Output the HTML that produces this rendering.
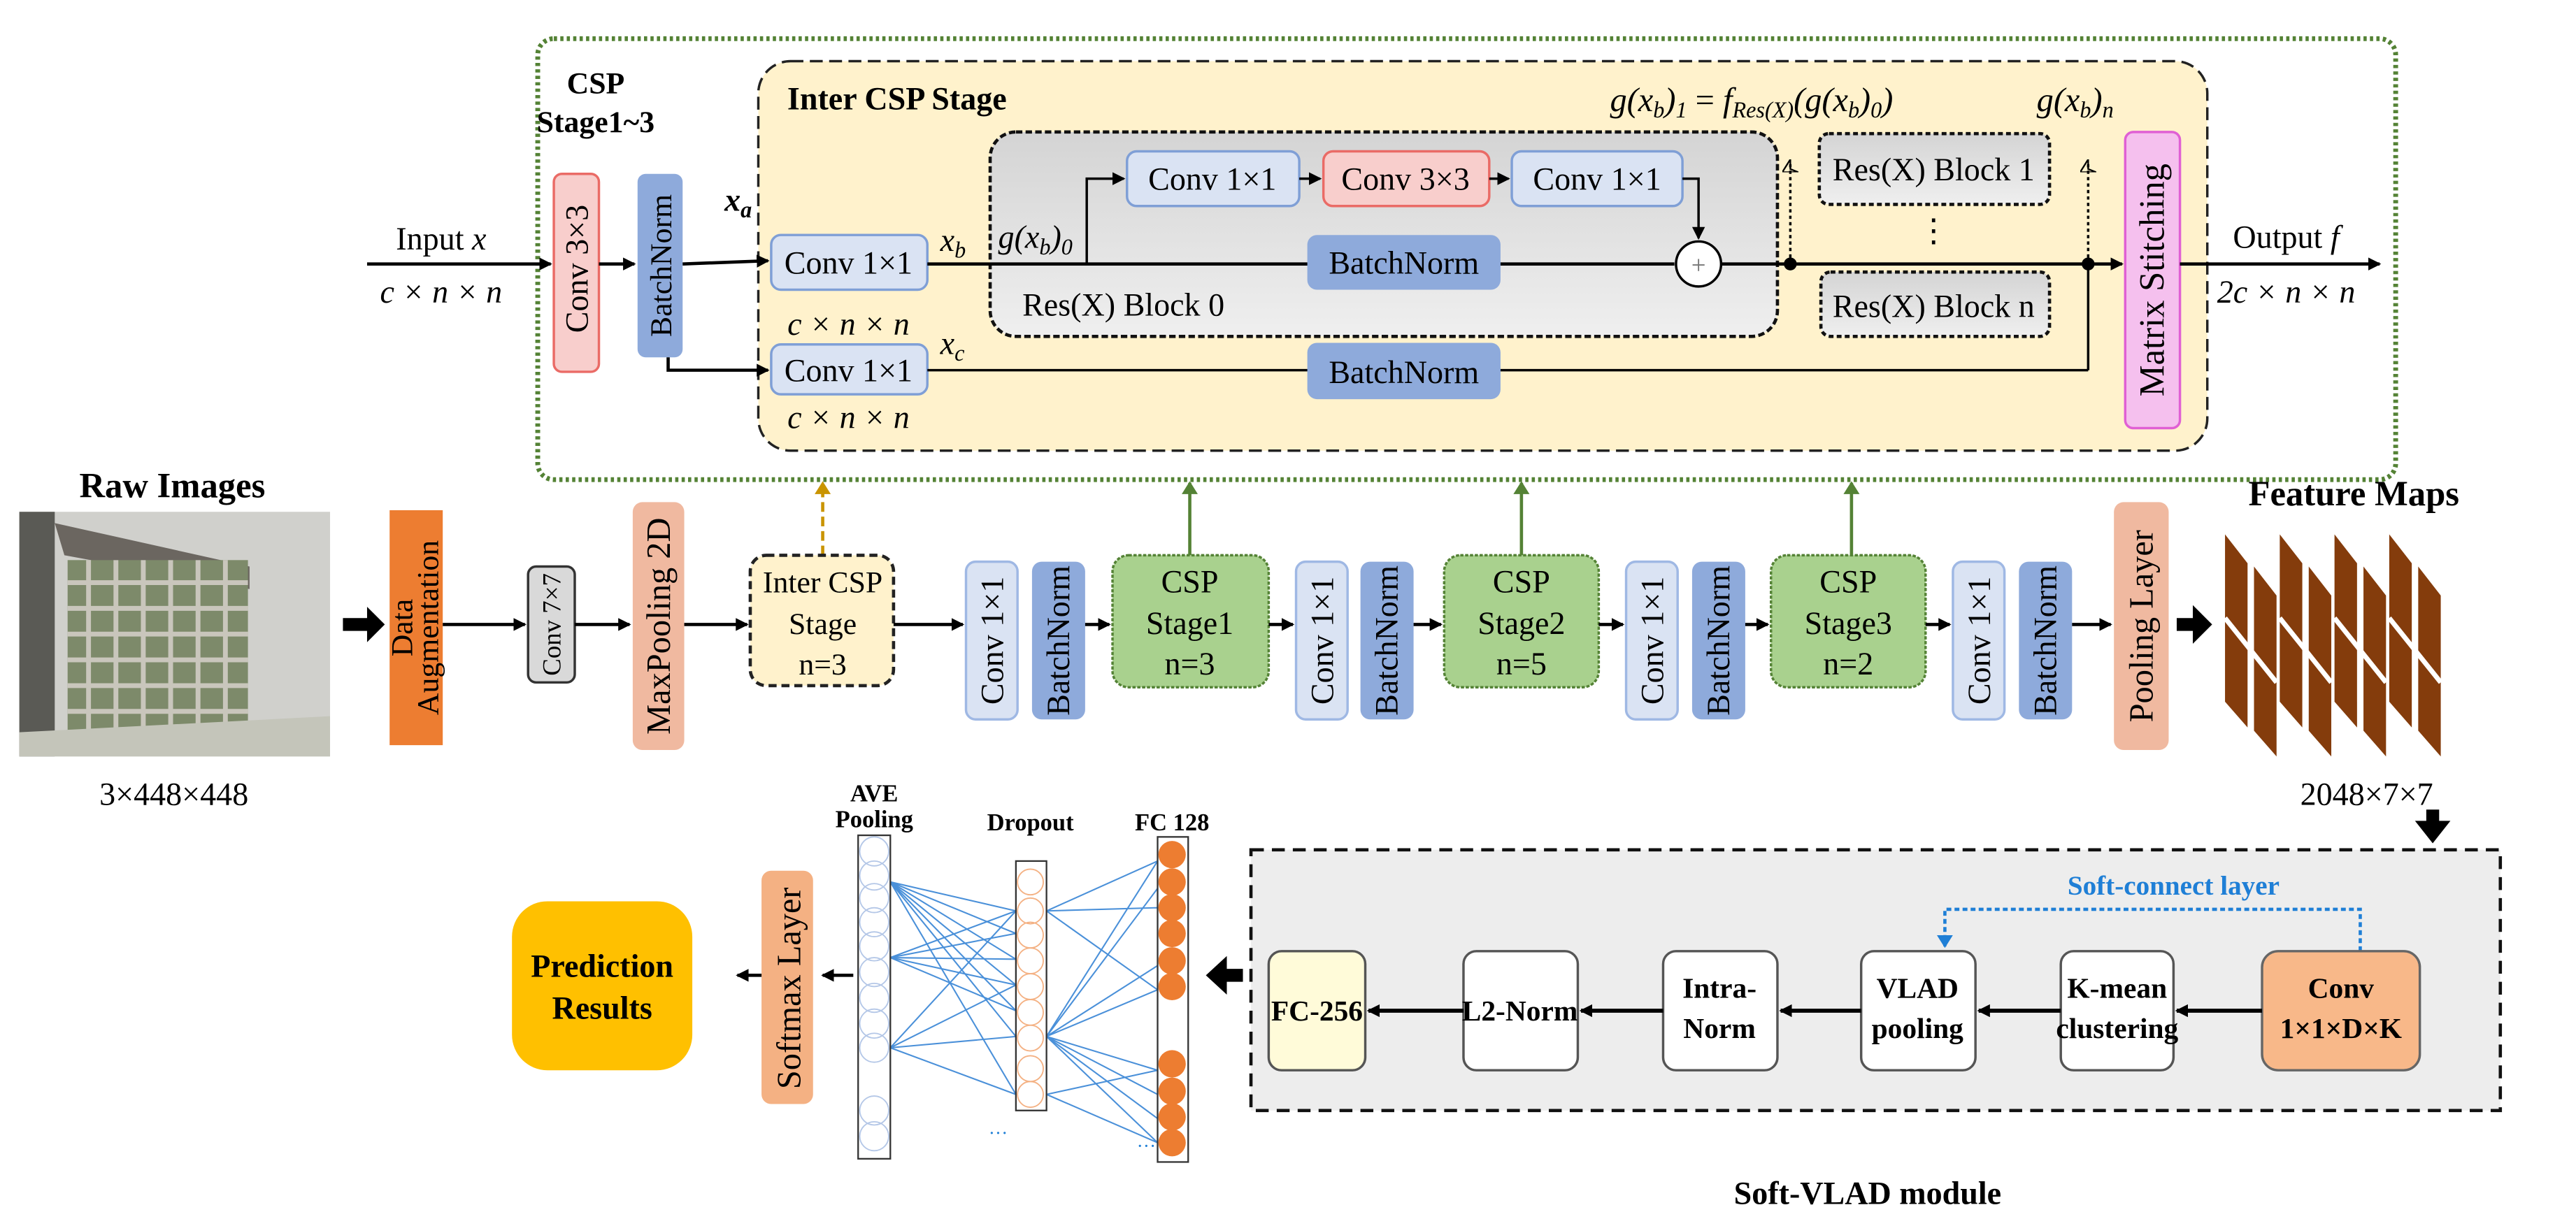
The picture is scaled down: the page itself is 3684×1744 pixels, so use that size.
<!DOCTYPE html>
<html><head><meta charset="utf-8"><style>html,body{margin:0;padding:0;background:#fff}svg{display:block}</style></head>
<body>
<svg xmlns="http://www.w3.org/2000/svg" width="3684" height="1744" viewBox="0 0 1600 757.4" font-family="'Liberation Serif', serif">
<defs>
<marker id="ah" markerWidth="8" markerHeight="8" refX="7" refY="4" orient="auto" markerUnits="userSpaceOnUse"><path d="M0,0 L8,4 L0,8 z" fill="#000"/></marker>
<marker id="ag" markerWidth="8" markerHeight="10" refX="7" refY="5" orient="auto" markerUnits="userSpaceOnUse"><path d="M0,0 L8,5 L0,10 z" fill="#548235"/></marker>
<marker id="ay" markerWidth="8" markerHeight="10" refX="7" refY="5" orient="auto" markerUnits="userSpaceOnUse"><path d="M0,0 L8,5 L0,10 z" fill="#c99400"/></marker>
<marker id="ab" markerWidth="8" markerHeight="10" refX="7" refY="5" orient="auto" markerUnits="userSpaceOnUse"><path d="M0,0 L8,5 L0,10 z" fill="#1f7fd6"/></marker>
<marker id="ao" markerWidth="8" markerHeight="10" refX="7" refY="5" orient="auto" markerUnits="userSpaceOnUse"><path d="M0,0 L8,5 L2,5 L0,10 z" fill="none" stroke="#000" stroke-width="1"/></marker>
<linearGradient id="gg" x1="0" y1="0" x2="0" y2="1"><stop offset="0" stop-color="#d4d4d4"/><stop offset="1" stop-color="#efefef"/></linearGradient>
</defs>

<rect x="334" y="24" width="1154" height="274" rx="10" fill="none" stroke="#548235" stroke-width="3" stroke-dasharray="2,2"/>
<text x="370" y="58" font-size="19" font-weight="bold" text-anchor="middle">CSP</text>
<text x="370" y="82" font-size="19" font-weight="bold" text-anchor="middle">Stage1~3</text>

<rect x="471" y="38" width="900" height="242" rx="20" fill="#fff2cc" stroke="#222" stroke-width="1.5" stroke-dasharray="8,4"/>
<text x="489" y="68" font-size="20" font-weight="bold">Inter CSP Stage</text>

<line x1="228" y1="164" x2="342" y2="164" stroke="#000" stroke-width="2" marker-end="url(#ah)"/>
<text x="274" y="155" font-size="20" text-anchor="middle">Input <tspan font-style="italic">x</tspan></text>
<text x="274" y="188" font-size="20" text-anchor="middle" font-style="italic">c × n × n</text>

<rect x="344" y="108" width="28" height="123" rx="5" fill="#f8cecc" stroke="#ea6b66" stroke-width="1.5"/>
<text transform="translate(365,167) rotate(-90)" font-size="20" text-anchor="middle">Conv 3×3</text>
<line x1="372" y1="164" x2="394" y2="164" stroke="#000" stroke-width="2" marker-end="url(#ah)"/>
<rect x="396" y="108" width="28" height="114" rx="5" fill="#8eaadb"/>
<text transform="translate(417,165) rotate(-90)" font-size="19" text-anchor="middle">BatchNorm</text>

<text x="450" y="131" font-size="20" font-style="italic" font-weight="bold">x<tspan font-size="14" dy="4">a</tspan></text>
<polyline points="424,164 477,162" fill="none" stroke="#000" stroke-width="2" marker-end="url(#ah)"/>
<polyline points="415,222 415,230 477,230" fill="none" stroke="#000" stroke-width="2" marker-end="url(#ah)"/>

<rect x="479" y="146" width="97" height="34" rx="6" fill="#dae3f3" stroke="#7f9fd6" stroke-width="1.5"/>
<text x="527" y="170" font-size="20" text-anchor="middle">Conv 1×1</text>
<text x="527" y="208" font-size="20" text-anchor="middle" font-style="italic">c × n × n</text>
<rect x="479" y="214" width="97" height="31" rx="6" fill="#dae3f3" stroke="#7f9fd6" stroke-width="1.5"/>
<text x="527" y="237" font-size="20" text-anchor="middle">Conv 1×1</text>
<text x="527" y="266" font-size="20" text-anchor="middle" font-style="italic">c × n × n</text>
<text x="584" y="156" font-size="20" font-style="italic">x<tspan font-size="14" dy="4">b</tspan></text>
<text x="584" y="220" font-size="20" font-style="italic">x<tspan font-size="14" dy="4">c</tspan></text>

<rect x="615" y="82" width="489" height="127" rx="16" fill="url(#gg)" stroke="#111" stroke-width="2" stroke-dasharray="4,2"/>
<text x="620" y="154" font-size="20" font-style="italic">g(x<tspan font-size="14" dy="4">b</tspan><tspan dy="-4">)</tspan><tspan font-size="14" dy="4">0</tspan></text>
<text x="635" y="196" font-size="20">Res(X) Block 0</text>
<line x1="576" y1="164" x2="1040" y2="164" stroke="#000" stroke-width="2"/>
<polyline points="675,164 675,111 698,111" fill="none" stroke="#000" stroke-width="1.5" marker-end="url(#ah)"/>
<rect x="700" y="94" width="107" height="34" rx="6" fill="#dae3f3" stroke="#7f9fd6" stroke-width="1.5"/>
<text x="753" y="118" font-size="20" text-anchor="middle">Conv 1×1</text>
<line x1="807" y1="111" x2="820" y2="111" stroke="#000" stroke-width="1.5" marker-end="url(#ah)"/>
<rect x="822" y="94" width="103" height="34" rx="6" fill="#f8cecc" stroke="#ea6b66" stroke-width="1.5"/>
<text x="873" y="118" font-size="20" text-anchor="middle">Conv 3×3</text>
<line x1="925" y1="111" x2="937" y2="111" stroke="#000" stroke-width="1.5" marker-end="url(#ah)"/>
<rect x="939" y="94" width="106" height="34" rx="6" fill="#dae3f3" stroke="#7f9fd6" stroke-width="1.5"/>
<text x="992" y="118" font-size="20" text-anchor="middle">Conv 1×1</text>
<polyline points="1045,111 1055,111 1055,148" fill="none" stroke="#000" stroke-width="1.5" marker-end="url(#ah)"/>
<rect x="812" y="146" width="120" height="34" rx="6" fill="#8eaadb"/>
<text x="872" y="170" font-size="20" text-anchor="middle">BatchNorm</text>
<circle cx="1055" cy="164" r="14" fill="#fff" stroke="#000" stroke-width="1.5"/>
<text x="1055" y="170" font-size="16" text-anchor="middle" fill="#777">+</text>
<line x1="1069" y1="164" x2="1318" y2="164" stroke="#000" stroke-width="2" marker-end="url(#ah)"/>
<circle cx="1112" cy="164" r="4" fill="#000"/>
<circle cx="1297" cy="164" r="4" fill="#000"/>
<line x1="1112" y1="160" x2="1112" y2="100" stroke="#000" stroke-width="1.5" stroke-dasharray="2,2" marker-end="url(#ao)"/>
<line x1="1297" y1="160" x2="1297" y2="100" stroke="#000" stroke-width="1.5" stroke-dasharray="2,2" marker-end="url(#ao)"/>
<rect x="1130" y="83" width="143" height="44" rx="6" fill="url(#gg)" stroke="#111" stroke-width="2" stroke-dasharray="3,2"/>
<text x="1201" y="112" font-size="20" text-anchor="middle">Res(X) Block 1</text>
<text x="1201" y="150" font-size="20" text-anchor="middle">⋮</text>
<rect x="1131" y="169" width="142" height="40" rx="6" fill="url(#gg)" stroke="#111" stroke-width="2" stroke-dasharray="3,2"/>
<text x="1201" y="197" font-size="20" text-anchor="middle">Res(X) Block n</text>
<text x="1000" y="69" font-size="21" font-style="italic">g(x<tspan font-size="14" dy="4">b</tspan><tspan dy="-4">)</tspan><tspan font-size="14" dy="4">1</tspan><tspan dy="-4" font-style="normal"> = </tspan>f<tspan font-size="14" dy="4">Res(X)</tspan><tspan dy="-4">(g(x</tspan><tspan font-size="14" dy="4">b</tspan><tspan dy="-4">)</tspan><tspan font-size="14" dy="4">0</tspan><tspan dy="-4">)</tspan></text>
<text x="1265" y="69" font-size="21" font-style="italic">g(x<tspan font-size="14" dy="4">b</tspan><tspan dy="-4">)</tspan><tspan font-size="14" dy="4">n</tspan></text>

<line x1="576" y1="230" x2="1297" y2="230" stroke="#000" stroke-width="1.5"/>
<line x1="1297" y1="230" x2="1297" y2="164" stroke="#000" stroke-width="1.5"/>
<rect x="812" y="213" width="120" height="35" rx="6" fill="#8eaadb"/>
<text x="872" y="238" font-size="20" text-anchor="middle">BatchNorm</text>

<rect x="1320" y="82" width="34" height="184" rx="5" fill="#f5c0ee" stroke="#e060d4" stroke-width="1.5"/>
<text transform="translate(1344,174) rotate(-90)" font-size="22" text-anchor="middle">Matrix Stitching</text>
<line x1="1354" y1="164" x2="1478" y2="164" stroke="#000" stroke-width="2" marker-end="url(#ah)"/>
<text x="1420" y="154" font-size="20" text-anchor="middle">Output <tspan font-style="italic">f</tspan></text>
<text x="1420" y="188" font-size="20" text-anchor="middle" font-style="italic">2c × n × n</text>

<line x1="511" y1="345" x2="511" y2="300" stroke="#c99400" stroke-width="2" stroke-dasharray="6,3" marker-end="url(#ay)"/>
<line x1="739" y1="345" x2="739" y2="300" stroke="#548235" stroke-width="2" marker-end="url(#ag)"/>
<line x1="945" y1="345" x2="945" y2="300" stroke="#548235" stroke-width="2" marker-end="url(#ag)"/>
<line x1="1150" y1="345" x2="1150" y2="300" stroke="#548235" stroke-width="2" marker-end="url(#ag)"/>

<text x="107" y="309" font-size="22" font-weight="bold" text-anchor="middle">Raw Images</text>
<rect x="12" y="318" width="193" height="152" fill="#d0d0cc"/>
<rect x="12" y="318" width="22" height="152" fill="#5a5a55"/>
<polygon points="34,325 155,352 155,366 40,345" fill="#6b6660"/>
<rect x="42" y="348" width="112" height="108" fill="#7d8a6a"/>
<g stroke="#c9c6bc" stroke-width="3" fill="none">
<path d="M42,362 h112 M42,378 h112 M42,394 h112 M42,410 h112 M42,426 h112 M42,442 h112 M55,348 v108 M72,348 v108 M89,348 v108 M106,348 v108 M123,348 v108 M140,348 v108"/>
</g>
<polygon points="12,455 205,445 205,470 12,470" fill="#c4c5ba"/>
<text x="108" y="500" font-size="20" text-anchor="middle">3×448×448</text>
<line x1="213" y1="388" x2="230" y2="388" stroke="#000" stroke-width="8"/>
<polygon points="228,377 239,388 228,399" fill="#000"/>

<rect x="242" y="317" width="33" height="146" fill="#ed7d31"/>
<text transform="translate(256,390) rotate(-90)" font-size="19" text-anchor="middle">Data</text>
<text transform="translate(272,390) rotate(-90)" font-size="19" text-anchor="middle">Augmentation</text>
<line x1="275" y1="388" x2="326" y2="388" stroke="#000" stroke-width="2" marker-end="url(#ah)"/>
<rect x="328" y="352" width="29" height="72" rx="5" fill="#d9d9d9" stroke="#333" stroke-width="1.5"/>
<text transform="translate(348,388) rotate(-90)" font-size="16" text-anchor="middle">Conv 7×7</text>
<line x1="357" y1="388" x2="391" y2="388" stroke="#000" stroke-width="2" marker-end="url(#ah)"/>
<rect x="393" y="312" width="32" height="154" rx="6" fill="#f0b9a0"/>
<text transform="translate(416,389) rotate(-90)" font-size="21" text-anchor="middle">MaxPooling  2D</text>
<line x1="425" y1="388" x2="464" y2="388" stroke="#000" stroke-width="2" marker-end="url(#ah)"/>
<rect x="466" y="345" width="89" height="81" rx="10" fill="#fff2cc" stroke="#222" stroke-width="2" stroke-dasharray="5,3"/>
<text x="511" y="368" font-size="19" text-anchor="middle">Inter CSP</text>
<text x="511" y="394" font-size="19" text-anchor="middle">Stage</text>
<text x="511" y="419" font-size="19" text-anchor="middle">n=3</text>

<g font-size="20" text-anchor="middle">
<line x1="555" y1="388" x2="598" y2="388" stroke="#000" stroke-width="2" marker-end="url(#ah)"/>
<rect x="600" y="349" width="32" height="98" rx="6" fill="#dae3f3" stroke="#9fb8e4" stroke-width="1.5"/>
<text transform="translate(623,398) rotate(-90)">Conv  1×1</text>
<rect x="641" y="349" width="33" height="98" rx="6" fill="#8eaadb"/>
<text transform="translate(664,398) rotate(-90)">BatchNorm</text>
<line x1="674" y1="388" x2="689" y2="388" stroke="#000" stroke-width="2" marker-end="url(#ah)"/>
<rect x="691" y="345" width="97" height="82" rx="10" fill="#a9d18e" stroke="#548235" stroke-width="1.5" stroke-dasharray="2,1"/>
<text x="739" y="368">CSP</text><text x="739" y="394">Stage1</text><text x="739" y="419">n=3</text>
<line x1="788" y1="388" x2="803" y2="388" stroke="#000" stroke-width="2" marker-end="url(#ah)"/>

<rect x="805" y="349" width="32" height="98" rx="6" fill="#dae3f3" stroke="#9fb8e4" stroke-width="1.5"/>
<text transform="translate(828,398) rotate(-90)">Conv  1×1</text>
<rect x="845" y="349" width="33" height="98" rx="6" fill="#8eaadb"/>
<text transform="translate(868,398) rotate(-90)">BatchNorm</text>
<line x1="878" y1="388" x2="895" y2="388" stroke="#000" stroke-width="2" marker-end="url(#ah)"/>
<rect x="897" y="345" width="96" height="82" rx="10" fill="#a9d18e" stroke="#548235" stroke-width="1.5" stroke-dasharray="2,1"/>
<text x="945" y="368">CSP</text><text x="945" y="394">Stage2</text><text x="945" y="419">n=5</text>
<line x1="993" y1="388" x2="1008" y2="388" stroke="#000" stroke-width="2" marker-end="url(#ah)"/>

<rect x="1010" y="349" width="32" height="98" rx="6" fill="#dae3f3" stroke="#9fb8e4" stroke-width="1.5"/>
<text transform="translate(1033,398) rotate(-90)">Conv  1×1</text>
<rect x="1051" y="349" width="33" height="98" rx="6" fill="#8eaadb"/>
<text transform="translate(1074,398) rotate(-90)">BatchNorm</text>
<line x1="1084" y1="388" x2="1098" y2="388" stroke="#000" stroke-width="2" marker-end="url(#ah)"/>
<rect x="1100" y="345" width="96" height="82" rx="10" fill="#a9d18e" stroke="#548235" stroke-width="1.5" stroke-dasharray="2,1"/>
<text x="1148" y="368">CSP</text><text x="1148" y="394">Stage3</text><text x="1148" y="419">n=2</text>
<line x1="1196" y1="388" x2="1211" y2="388" stroke="#000" stroke-width="2" marker-end="url(#ah)"/>

<rect x="1213" y="349" width="32" height="98" rx="6" fill="#dae3f3" stroke="#9fb8e4" stroke-width="1.5"/>
<text transform="translate(1236,398) rotate(-90)">Conv  1×1</text>
<rect x="1254" y="349" width="33" height="98" rx="6" fill="#8eaadb"/>
<text transform="translate(1277,398) rotate(-90)">BatchNorm</text>
<line x1="1287" y1="388" x2="1311" y2="388" stroke="#000" stroke-width="2" marker-end="url(#ah)"/>
<rect x="1313" y="312" width="34" height="154" rx="6" fill="#f0b9a0"/>
<text transform="translate(1337,389) rotate(-90)" font-size="21">Pooling  Layer</text>
</g>
<line x1="1352" y1="388" x2="1364" y2="388" stroke="#000" stroke-width="8"/>
<polygon points="1362,376 1374,388 1362,400" fill="#000"/>

<g fill="#843c0c">
<polygon points="1382,332 1396,350 1396,452 1382,436"/>
<polygon points="1416,332 1430,350 1430,452 1416,436"/>
<polygon points="1450,332 1464,350 1464,452 1450,436"/>
<polygon points="1484,332 1498,350 1498,452 1484,436"/>
<polygon points="1400,352 1414,370 1414,470 1400,454"/>
<polygon points="1434,352 1448,370 1448,470 1434,454"/>
<polygon points="1468,352 1482,370 1482,470 1468,454"/>
<polygon points="1502,352 1516,370 1516,470 1502,454"/>
</g>
<g stroke="#fff" stroke-width="3">
<line x1="1382" y1="384" x2="1414" y2="424"/><line x1="1416" y1="384" x2="1448" y2="424"/><line x1="1450" y1="384" x2="1482" y2="424"/><line x1="1484" y1="384" x2="1516" y2="424"/>
</g>
<text x="1462" y="314" font-size="22" font-weight="bold" text-anchor="middle">Feature Maps</text>
<text x="1470" y="500" font-size="20" text-anchor="middle">2048×7×7</text>
<line x1="1511" y1="503" x2="1511" y2="512" stroke="#000" stroke-width="8"/>
<polygon points="1500,510 1511,524 1522,510" fill="#000"/>

<rect x="777" y="528" width="776" height="162" fill="#ededed" stroke="#111" stroke-width="2" stroke-dasharray="8,5"/>
<text x="1350" y="556" font-size="17" font-weight="bold" fill="#1f7fd6" text-anchor="middle">Soft-connect layer</text>
<polyline points="1466,591 1466,565 1208,565 1208,588" fill="none" stroke="#1f7fd6" stroke-width="2" stroke-dasharray="3,2" marker-end="url(#ab)"/>
<g font-size="18" font-weight="bold" text-anchor="middle">
<rect x="788" y="591" width="60" height="74" rx="8" fill="#fffbd9" stroke="#555" stroke-width="1.5"/>
<text x="818" y="634">FC-256</text>
<rect x="909" y="591" width="71" height="74" rx="8" fill="#fff" stroke="#555" stroke-width="1.5"/>
<text x="944" y="634">L2-Norm</text>
<rect x="1033" y="591" width="71" height="74" rx="8" fill="#fff" stroke="#555" stroke-width="1.5"/>
<text x="1068" y="620">Intra-</text><text x="1068" y="645">Norm</text>
<rect x="1156" y="591" width="71" height="74" rx="8" fill="#fff" stroke="#555" stroke-width="1.5"/>
<text x="1191" y="620">VLAD</text><text x="1191" y="645">pooling</text>
<rect x="1280" y="591" width="70" height="74" rx="8" fill="#fff" stroke="#555" stroke-width="1.5"/>
<text x="1315" y="620">K-mean</text><text x="1315" y="645">clustering</text>
<rect x="1405" y="591" width="98" height="74" rx="10" fill="#f8b889" stroke="#666" stroke-width="1.5"/>
<text x="1454" y="620">Conv</text><text x="1454" y="645">1×1×D×K</text>
</g>
<g stroke="#000" stroke-width="2.5">
<line x1="1405" y1="628" x2="1352" y2="628" marker-end="url(#ah)"/>
<line x1="1280" y1="628" x2="1229" y2="628" marker-end="url(#ah)"/>
<line x1="1156" y1="628" x2="1106" y2="628" marker-end="url(#ah)"/>
<line x1="1033" y1="628" x2="982" y2="628" marker-end="url(#ah)"/>
<line x1="909" y1="628" x2="850" y2="628" marker-end="url(#ah)"/>
</g>
<text x="1160" y="748" font-size="20" font-weight="bold" text-anchor="middle">Soft-VLAD module</text>
<line x1="772" y1="606" x2="760" y2="606" stroke="#000" stroke-width="8"/>
<polygon points="762,594 749,606 762,618" fill="#000"/>

<text x="543" y="498" font-size="15" font-weight="bold" text-anchor="middle">AVE</text>
<text x="543" y="514" font-size="15" font-weight="bold" text-anchor="middle">Pooling</text>
<text x="640" y="516" font-size="15" font-weight="bold" text-anchor="middle">Dropout</text>
<text x="728" y="516" font-size="15" font-weight="bold" text-anchor="middle">FC 128</text>
<g stroke="#4a90d9" stroke-width="0.9">
<line x1="553" y1="548" x2="631" y2="566"/><line x1="553" y1="548" x2="631" y2="580"/><line x1="553" y1="548" x2="631" y2="596"/><line x1="553" y1="548" x2="631" y2="612"/><line x1="553" y1="548" x2="631" y2="628"/><line x1="553" y1="548" x2="631" y2="644"/><line x1="553" y1="548" x2="631" y2="680"/>
<line x1="553" y1="595" x2="631" y2="566"/><line x1="553" y1="595" x2="631" y2="580"/><line x1="553" y1="595" x2="631" y2="596"/><line x1="553" y1="595" x2="631" y2="612"/><line x1="553" y1="595" x2="631" y2="628"/>
<line x1="553" y1="651" x2="631" y2="566"/><line x1="553" y1="651" x2="631" y2="612"/><line x1="553" y1="651" x2="631" y2="644"/><line x1="553" y1="651" x2="631" y2="680"/>
<line x1="650" y1="566" x2="719" y2="535"/><line x1="650" y1="566" x2="719" y2="564"/><line x1="650" y1="566" x2="719" y2="615"/>
<line x1="650" y1="644" x2="719" y2="535"/><line x1="650" y1="644" x2="719" y2="552"/><line x1="650" y1="644" x2="719" y2="600"/><line x1="650" y1="644" x2="719" y2="615"/><line x1="650" y1="644" x2="719" y2="680"/><line x1="650" y1="644" x2="719" y2="695"/><line x1="650" y1="644" x2="719" y2="710"/><line x1="650" y1="644" x2="719" y2="665"/>
<line x1="650" y1="680" x2="719" y2="665"/><line x1="650" y1="680" x2="719" y2="710"/>
</g>
<rect x="533" y="519" width="20" height="201" fill="#fff" fill-opacity="0.6" stroke="#333" stroke-width="1"/>
<g fill="none" stroke="#b4c7e7" stroke-width="0.8">
<circle cx="543" cy="529" r="9"/><circle cx="543" cy="544" r="9"/><circle cx="543" cy="558" r="9"/><circle cx="543" cy="573" r="9"/><circle cx="543" cy="588" r="9"/><circle cx="543" cy="604" r="9"/><circle cx="543" cy="620" r="9"/><circle cx="543" cy="636" r="9"/><circle cx="543" cy="651" r="9"/><circle cx="543" cy="690" r="9"/><circle cx="543" cy="706" r="9"/>
</g>
<rect x="631" y="535" width="19" height="155" fill="#fff" fill-opacity="0.6" stroke="#333" stroke-width="1"/>
<g fill="none" stroke="#f4b183" stroke-width="0.8">
<circle cx="640" cy="548" r="8"/><circle cx="640" cy="566" r="8"/><circle cx="640" cy="581" r="8"/><circle cx="640" cy="597" r="8"/><circle cx="640" cy="613" r="8"/><circle cx="640" cy="629" r="8"/><circle cx="640" cy="645" r="8"/><circle cx="640" cy="664" r="8"/><circle cx="640" cy="680" r="8"/>
</g>
<rect x="719" y="520" width="19" height="202" fill="#fff" stroke="#333" stroke-width="1"/>
<g fill="#ed7d31">
<circle cx="728" cy="531" r="8.5"/><circle cx="728" cy="548" r="8.5"/><circle cx="728" cy="564" r="8.5"/><circle cx="728" cy="580" r="8.5"/><circle cx="728" cy="597" r="8.5"/><circle cx="728" cy="613" r="8.5"/>
<circle cx="728" cy="661" r="8.5"/><circle cx="728" cy="678" r="8.5"/><circle cx="728" cy="694" r="8.5"/><circle cx="728" cy="710" r="8.5"/>
</g>
<text x="614" y="708" font-size="12" fill="#1f7fd6">···</text>
<text x="706" y="716" font-size="12" fill="#1f7fd6">···</text>

<line x1="530" y1="606" x2="511" y2="606" stroke="#000" stroke-width="2" marker-end="url(#ah)"/>
<rect x="473" y="541" width="32" height="145" rx="6" fill="#f4b183"/>
<text transform="translate(497,614) rotate(-90)" font-size="21" text-anchor="middle">Softmax  Layer</text>
<line x1="473" y1="606" x2="458" y2="606" stroke="#000" stroke-width="2" marker-end="url(#ah)"/>
<rect x="318" y="560" width="112" height="105" rx="22" fill="#ffc000"/>
<text x="374" y="607" font-size="20" font-weight="bold" text-anchor="middle">Prediction</text>
<text x="374" y="633" font-size="20" font-weight="bold" text-anchor="middle">Results</text>
</svg>
</body></html>
